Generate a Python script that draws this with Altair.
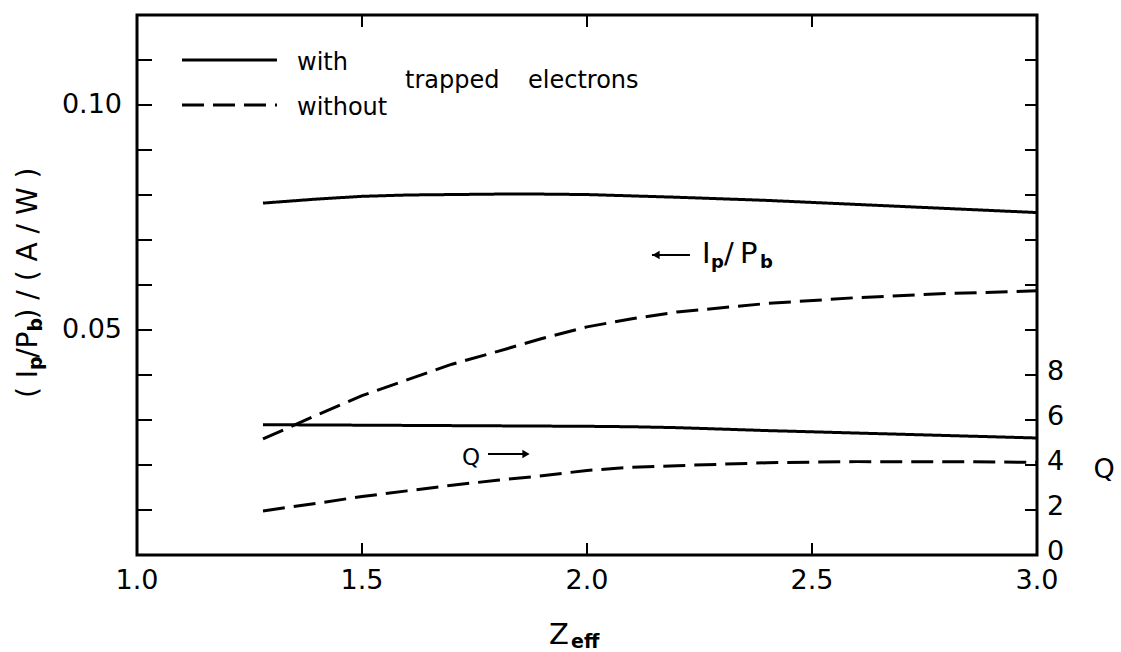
import altair as alt
import pandas as pd

# ---------------- data ----------------
z = [1.28, 1.4, 1.5, 1.6, 1.7, 1.8, 1.9, 2.0, 2.1, 2.2, 2.4, 2.6, 2.8, 3.0]
ip_with = [0.0782, 0.0791, 0.0797, 0.0800, 0.0801, 0.0802, 0.0802, 0.0801,
           0.0798, 0.0795, 0.0788, 0.0779, 0.0770, 0.0761]
ip_without = [0.0258, 0.0311, 0.0354, 0.0389, 0.0424, 0.0452, 0.0481, 0.0507,
              0.0525, 0.0540, 0.0559, 0.0572, 0.0581, 0.0587]
q_with = [5.79, 5.78, 5.77, 5.76, 5.75, 5.74, 5.73, 5.72, 5.70, 5.66, 5.53,
          5.42, 5.31, 5.20]
q_without = [1.96, 2.30, 2.60, 2.85, 3.10, 3.32, 3.52, 3.76, 3.90, 3.97, 4.10,
             4.15, 4.15, 4.12]
series = ["with", "without"]

x_labels = [1.0, 1.5, 2.0, 2.5, 3.0]
x_label_text = ["1.0", "1.5", "2.0", "2.5", "3.0"]
x_minor = [1.5, 2.0, 2.5]
left_labels = [0.05, 0.10]
left_label_text = ["0.05", "0.10"]
left_ticks = [0.01, 0.02, 0.03, 0.04, 0.05, 0.06, 0.07, 0.08, 0.09, 0.10, 0.11]
right_labels = [0, 2, 4, 6, 8]
right_label_text = ["0", "2", "4", "6", "8"]
right_ticks = [2, 4, 6, 8, 10, 12, 14, 16, 18, 20, 22]

# legend sample lines (data coordinates)
legend_x1 = [1.10, 1.10]
legend_x2 = [1.311, 1.311]
legend_y = [0.110, 0.100]

# ---------------- layout ----------------
FONT = "DejaVu Sans"
LABEL_FS = 27
W, H = 900, 540
xs = alt.Scale(domain=[1.0, 3.0], nice=False, zero=False)
ysl = alt.Scale(domain=[0.0, 0.12], nice=False, zero=False)
ysr = alt.Scale(domain=[0, 24], nice=False, zero=False)
dash = alt.StrokeDash("s:N", scale=alt.Scale(domain=series, range=[[1, 0], [22, 9]]),
                      legend=None)

ip_df = pd.DataFrame({"z": z * 2, "v": ip_with + ip_without,
                      "s": ["with"] * len(z) + ["without"] * len(z)})
q_df = pd.DataFrame({"z": z * 2, "v": q_with + q_without,
                     "s": ["with"] * len(z) + ["without"] * len(z)})

ip_lines = alt.Chart(ip_df).mark_line(strokeWidth=3, color="black").encode(
    x=alt.X("z:Q", scale=xs, axis=None),
    y=alt.Y("v:Q", scale=ysl, axis=None),
    strokeDash=dash,
)

q_lines = alt.Chart(q_df).mark_line(strokeWidth=3, color="black").encode(
    x=alt.X("z:Q", scale=xs, axis=None),
    y=alt.Y("v:Q", scale=ysr, axis=None),
    strokeDash=dash,
)

# inward ticks
lt = alt.Chart(pd.DataFrame({"v": left_ticks})).mark_rule(strokeWidth=2, color="black").encode(
    y=alt.Y("v:Q", scale=ysl, axis=None), x=alt.value(0), x2=alt.value(15))
rt = alt.Chart(pd.DataFrame({"v": right_ticks})).mark_rule(strokeWidth=2, color="black").encode(
    y=alt.Y("v:Q", scale=ysr, axis=None), x=alt.value(W - 12), x2=alt.value(W))
bt = alt.Chart(pd.DataFrame({"v": x_minor})).mark_rule(strokeWidth=2, color="black").encode(
    x=alt.X("v:Q", scale=xs, axis=None), y=alt.value(H - 12), y2=alt.value(H))
tt = alt.Chart(pd.DataFrame({"v": x_minor})).mark_rule(strokeWidth=2, color="black").encode(
    x=alt.X("v:Q", scale=xs, axis=None), y=alt.value(0), y2=alt.value(12))

# tick labels, placed through the scales
xl = alt.Chart(pd.DataFrame({"v": x_labels, "t": x_label_text})).mark_text(
    font=FONT, fontSize=LABEL_FS, align="center", baseline="top", color="black").encode(
    x=alt.X("v:Q", scale=xs, axis=None), y=alt.value(H + 13), text="t:N")
yl = alt.Chart(pd.DataFrame({"v": left_labels, "t": left_label_text})).mark_text(
    font=FONT, fontSize=LABEL_FS, align="right", baseline="middle", color="black").encode(
    y=alt.Y("v:Q", scale=ysl, axis=None), x=alt.value(-15), text="t:N")
yr = alt.Chart(pd.DataFrame({"v": right_labels, "t": right_label_text})).mark_text(
    font=FONT, fontSize=LABEL_FS, align="left", baseline="middle", dy=-3, color="black").encode(
    y=alt.Y("v:Q", scale=ysr, axis=None), x=alt.value(W + 10), text="t:N")

# legend lines
leg_df = pd.DataFrame({"s": series, "x1": legend_x1, "x2": legend_x2, "y": legend_y})
leg = alt.Chart(leg_df).mark_rule(strokeWidth=3, color="black").encode(
    x=alt.X("x1:Q", scale=xs, axis=None), x2="x2:Q",
    y=alt.Y("y:Q", scale=ysl, axis=None),
    strokeDash=alt.StrokeDash("s:N", scale=alt.Scale(domain=series, range=[[1, 0], [20, 5]]),
                              legend=None),
)


def dtext(t, x, y, size=24, weight="normal"):
    df = pd.DataFrame({"x": [x], "y": [y], "t": [t]})
    return alt.Chart(df).mark_text(font=FONT, fontSize=size, fontWeight=weight,
                                   align="left", baseline="alphabetic", color="black").encode(
        x=alt.X("x:Q", scale=xs, axis=None), y=alt.Y("y:Q", scale=ysl, axis=None),
        text="t:N")


def ptext(t, x, y, size=27, weight="normal", angle=0, align="left", baseline="alphabetic"):
    df = pd.DataFrame({"t": [t]})
    return alt.Chart(df).mark_text(font=FONT, fontSize=size, fontWeight=weight, angle=angle,
                                   align=align, baseline=baseline, color="black").encode(
        x=alt.value(x), y=alt.value(y), text="t:N")


def px2x(px):
    return 1.0 + (px - 137) / 450.0


def px2y(py):
    return (555 - py) / 4500.0


texts = [
    dtext("with", px2x(297), px2y(70), 24),
    dtext("without", px2x(297), px2y(115), 24),
    dtext("trapped", px2x(405), px2y(88), 24),
    dtext("electrons", px2x(528), px2y(88), 24),
    # I_p / P_b annotation
    dtext("I", px2x(702), px2y(263), 29),
    dtext("p", px2x(711), px2y(268), 18, "bold"),
    dtext("/", px2x(724), px2y(263), 29),
    dtext("P", px2x(740), px2y(263), 29),
    dtext("b", px2x(760), px2y(268), 18, "bold"),
    # Q annotation
    dtext("Q", px2x(462), px2y(465), 23),
]

arrows_df = pd.DataFrame({"x1": [px2x(652), px2x(488)], "x2": [px2x(690), px2x(528)],
                          "y": [px2y(255), px2y(454)]})
arrow_lines = alt.Chart(arrows_df).mark_rule(strokeWidth=2, color="black").encode(
    x=alt.X("x1:Q", scale=xs, axis=None), x2="x2:Q", y=alt.Y("y:Q", scale=ysl, axis=None))
head_l = alt.Chart(pd.DataFrame({"x": [px2x(656)], "y": [px2y(255)]})).mark_point(
    shape="triangle-left", filled=True, size=70, color="black", opacity=1).encode(
    x=alt.X("x:Q", scale=xs, axis=None), y=alt.Y("y:Q", scale=ysl, axis=None))
head_r = alt.Chart(pd.DataFrame({"x": [px2x(526)], "y": [px2y(454)]})).mark_point(
    shape="triangle-right", filled=True, size=70, color="black", opacity=1).encode(
    x=alt.X("x:Q", scale=xs, axis=None), y=alt.Y("y:Q", scale=ysl, axis=None))

# axis titles (pixel positions relative to plot origin at 137,15)
OX, OY = 137, 15
em = {"(": 0.390, ")": 0.390, " ": 0.318, "I": 0.295, "/": 0.337, "P": 0.603,
      "A": 0.684, "W": 0.989, "p": 0.635, "b": 0.635}
pieces = [("( I", 28, False), ("p", 19, True), ("/P", 28, False), ("b", 19, True),
          (" ) / ( A / W )", 28, False)]
ytitle = []
ypos = 398
for t, fs, sub in pieces:
    xb = 42 if sub else 37
    ytitle.append(ptext(t, xb - OX, ypos - OY, fs, "bold" if sub else "normal", angle=270))
    ypos -= sum(em[c] for c in t) * fs

xtitle = [ptext("Z", 549 - OX, 644 - OY, 29), ptext("eff", 571 - OX, 648 - OY, 19, "bold")]
qtitle = [ptext("Q", 1104 - OX, 470 - OY, 27, align="center", baseline="middle")]

left_group = alt.layer(ip_lines, lt, bt, tt, xl, yl, leg, arrow_lines, head_l, head_r,
                       *texts, *ytitle, *xtitle, *qtitle)
right_group = alt.layer(q_lines, rt, yr)

chart = alt.layer(left_group, right_group).resolve_scale(
    y="independent", strokeDash="independent"
).properties(
    width=W, height=H,
    autosize=alt.AutoSizeParams(type="none"),
    padding={"left": 137, "top": 15, "right": 84, "bottom": 97},
    background="white",
).configure_view(stroke="black", strokeWidth=3)

chart.save("out.html", embed_options={"renderer": "svg", "actions": False})
